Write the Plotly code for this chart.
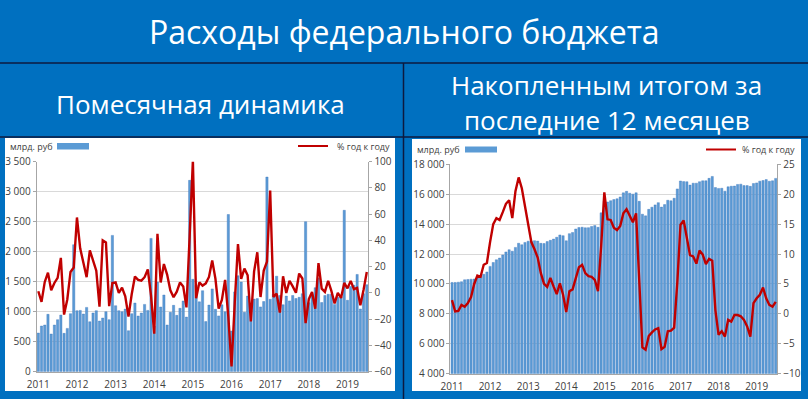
import plotly.graph_objects as go

# ---------------- data ----------------
years = ["2011", "2012", "2013", "2014", "2015", "2016", "2017", "2018", "2019"]
month_labels = [f"{y}-{m:02d}" for y in range(2011, 2020) for m in range(1, 13)][:103]

# Monthly federal budget expenditure, bn rub
monthly_spending = [
    644, 761, 778, 956, 628, 778, 867, 944, 639, 722, 967, 2117,
    1017, 1022, 961, 1072, 833, 978, 1017, 844, 894, 1000, 867, 2272,
    1100, 1017, 1000, 1044, 683, 967, 1144, 928, 978, 1122, 1022, 2222,
    760, 1494, 1078, 1278, 778, 989, 1106, 939, 1056, 1178, 910, 3189,
    1540, 1440, 1165, 1350, 835, 1110, 1380, 1040, 930, 1115, 1000, 2620,
    678, 1330, 1600, 1494, 990, 1260, 1080, 1210, 1218, 1080, 1170, 3244,
    1207, 1290, 1592, 1270, 1116, 1260, 1180, 1270, 1220, 1240, 1300, 2500,
    1150, 1300, 1400, 1560, 1153, 1270, 1290, 1290, 1122, 1240, 1250, 2690,
    1190, 1420, 1440, 1621, 1045, 1300, 1450,
]
# Monthly, % year on year
monthly_yoy = [
    1.3, -6.8, 8.4, 15.5, 2.0, 7.6, 11.5, 26.7, -16.5, -5.0, 16.0, 19.4,
    57.5, 34.0, 23.0, 12.0, 32.5, 25.5, 17.0, -10.5, 40.0, 38.5, -10.0, 7.5,
    8.0, 0.0, 4.0, -2.5, -18.0, -1.0, 12.5, 10.0, 9.4, 12.0, 18.0, -2.0,
    -31.0, 45.0, 8.0, 22.0, 14.0, 2.0, -3.3, 1.0, 8.0, 5.0, -11.0, 43.5,
    101.0, -4.0, 8.0, 5.6, 7.3, 12.2, 24.8, 10.8, -12.0, -5.3, 9.9, -17.8,
    -56.0, -7.6, 37.3, 10.7, 18.6, 13.5, -21.7, 16.3, 31.0, -3.1, 17.0, 23.8,
    78.0, -3.0, -0.5, -15.0, 12.7, 0.0, 9.3, 5.0, 0.2, 14.8, 11.0, -23.0,
    -4.7, 0.8, -12.0, 22.8, 3.3, 0.8, 9.3, 1.6, -8.0, 0.0, -3.8, 7.6,
    3.5, 9.2, 2.9, 3.9, -9.4, 2.4, 16.0,
]
# Rolling 12-month sum, bn rub
rolling_spending = [
    10100, 10100, 10120, 10150, 10280, 10300, 10320, 10330, 10400, 10550, 10650, 10801,
    11174, 11435, 11618, 11734, 11939, 12139, 12289, 12189, 12444, 12722, 12622, 12777,
    12860, 12855, 12894, 12866, 12716, 12705, 12832, 12916, 13000, 13122, 13277, 13227,
    12887, 13364, 13442, 13676, 13771, 13793, 13755, 13766, 13844, 13900, 13788, 14755,
    15535, 15481, 15568, 15640, 15697, 15818, 16092, 16193, 16067, 16004, 16094, 15525,
    14663, 14553, 14988, 15132, 15287, 15437, 15137, 15307, 15595, 15560, 15730, 16354,
    16883, 16843, 16835, 16611, 16737, 16737, 16837, 16897, 16899, 17059, 17189, 16445,
    16388, 16398, 16206, 16496, 16533, 16543, 16653, 16673, 16575, 16575, 16525, 16715,
    16755, 16875, 16915, 16976, 16868, 16898, 17058,
]
# Rolling 12-month sum, % year on year
rolling_yoy = [
    2.3, 0.4, 0.5, 1.5, 1.2, 1.8, 2.8, 5.0, 6.4, 6.2, 8.2, 8.5,
    12.0, 15.0, 16.0, 15.7, 17.0, 18.4, 19.0, 16.0, 20.5, 22.8, 21.0, 18.0,
    14.8, 12.0, 10.8, 9.4, 6.8, 5.0, 4.5, 6.0, 4.6, 3.3, 5.1, 3.2,
    0.3, 3.8, 4.1, 6.0, 7.8, 8.2, 6.8, 6.3, 6.2, 5.7, 3.8, 11.3,
    20.3, 15.8, 15.7, 14.4, 14.0, 14.7, 16.8, 17.5, 16.3, 15.3, 16.8, 5.2,
    -5.6, -6.0, -3.7, -3.1, -2.6, -2.4, -5.9, -5.5, -2.9, -2.8, -2.3, 5.3,
    14.9, 15.6, 12.6, 9.8, 9.6, 8.4, 10.6, 9.9, 8.3, 9.2, 8.9, 0.6,
    -3.5, -2.9, -3.8, -1.0, -1.3, -0.2, -0.2, -0.4, -1.0, -2.1, -3.8, 1.8,
    2.6, 3.2, 4.4, 2.6, 1.5, 1.2, 2.0,
]

left_ticks = [0, 500, 1000, 1500, 2000, 2500, 3000, 3500]
left_ticktext = ["0", "500", "1 000", "1 500", "2 000", "2 500", "3 000", "3 500"]
left_pct_ticks = [-60, -40, -20, 0, 20, 40, 60, 80, 100]
right_ticks = [4000, 6000, 8000, 10000, 12000, 14000, 16000, 18000]
right_ticktext = ["4 000", "6 000", "8 000", "10 000", "12 000", "14 000", "16 000", "18 000"]
right_pct_ticks = [-10, -5, 0, 5, 10, 15, 20, 25]

title_text = "Расходы федерального бюджета"
left_subtitle = "Помесячная динамика"
right_subtitle_1 = "Накопленным итогом за"
right_subtitle_2 = "последние 12 месяцев"
unit_label = "млрд. руб"
pct_label = "% год к году"

# ---------------- style ----------------
W, H = 808, 399
BG = "#0070C0"
BAR = "#5B9BD5"
BAR_EDGE = "#3F77BE"
RED = "#C00000"
DARK = "#0D1A3F"
GRID = "#D9D9D9"
AXIS = "#A6A6A6"
TXT = "#404040"
FONT = "Open Sans"


def px(x):
    return x / W


def py(y):
    return 1 - y / H


year_ticks = [month_labels[i] for i in range(0, 103, 12)]

fig = go.Figure()
fig.add_trace(go.Bar(x=month_labels, y=monthly_spending, xaxis="x", yaxis="y",
                     marker=dict(color=BAR, line=dict(color=BAR_EDGE, width=0.4)),
                     hoverinfo="skip", showlegend=False))
fig.add_trace(go.Scatter(x=month_labels, y=monthly_yoy, xaxis="x", yaxis="y2",
                         mode="lines", line=dict(color=RED, width=2.4),
                         hoverinfo="skip", showlegend=False))
fig.add_trace(go.Bar(x=month_labels, y=rolling_spending, xaxis="x2", yaxis="y3",
                     marker=dict(color=BAR, line=dict(color=BAR_EDGE, width=0.4)),
                     hoverinfo="skip", showlegend=False))
fig.add_trace(go.Scatter(x=month_labels, y=rolling_yoy, xaxis="x2", yaxis="y4",
                         mode="lines", line=dict(color=RED, width=2.4),
                         hoverinfo="skip", showlegend=False))

tickfont = dict(family=FONT, size=10, color=TXT)

common_x = dict(type="category", range=[-0.5, 102.5], tickmode="array",
                tickvals=year_ticks, ticktext=years, showgrid=False,
                showline=True, linecolor=AXIS, ticks="", tickfont=tickfont,
                ticklabelstandoff=3, fixedrange=True, automargin=False)
common_y = dict(showgrid=True, gridcolor=GRID, gridwidth=1, zeroline=False,
                showline=True, linecolor=AXIS, ticks="outside", ticklen=3,
                tickcolor=AXIS, tickfont=tickfont, fixedrange=True, tickmode="array",
                automargin=False)

L_x0, L_x1, L_y0, L_y1 = 36.7, 368.4, 371.7, 161.7
R_x0, R_x1, R_y0, R_y1 = 450.4, 777.3, 373.7, 164.3

fig.update_layout(
    width=W, height=H, autosize=False,
    margin=dict(l=0, r=0, t=0, b=0, pad=0, autoexpand=False),
    paper_bgcolor=BG, plot_bgcolor="white",
    bargap=0.3, hovermode=False,
    font=dict(family=FONT),
    xaxis=dict(domain=[px(L_x0), px(L_x1)], anchor="y", **common_x),
    yaxis=dict(domain=[py(L_y0), py(L_y1)], anchor="x", range=[0, 3500],
               tickvals=left_ticks, ticktext=left_ticktext, **common_y),
    yaxis2=dict(overlaying="y", side="right", anchor="x", range=[-60, 100],
                tickvals=left_pct_ticks, **{**common_y, "showgrid": False}),
    xaxis2=dict(domain=[px(R_x0), px(R_x1)], anchor="y3", **common_x),
    yaxis3=dict(domain=[py(R_y0), py(R_y1)], anchor="x2", range=[4000, 18000],
                tickvals=right_ticks, ticktext=right_ticktext, **common_y),
    yaxis4=dict(overlaying="y3", side="right", anchor="x2", range=[-10, 25],
                tickvals=right_pct_ticks, **{**common_y, "showgrid": False}),
)

shapes = [
    # white chart panels
    dict(type="rect", xref="paper", yref="paper", x0=px(5), x1=px(395), y0=py(391), y1=py(138),
         fillcolor="white", line=dict(width=0), layer="below"),
    dict(type="rect", xref="paper", yref="paper", x0=px(412), x1=px(801), y0=py(391), y1=py(139),
         fillcolor="white", line=dict(width=0), layer="below"),
    # table borders
    dict(type="line", xref="paper", yref="paper", x0=0, x1=1, y0=py(63), y1=py(63),
         line=dict(color=DARK, width=1.5)),
    dict(type="line", xref="paper", yref="paper", x0=0, x1=1, y0=py(137), y1=py(137),
         line=dict(color=DARK, width=1.5), layer="below"),
    dict(type="line", xref="paper", yref="paper", x0=px(403.5), x1=px(403.5), y0=0, y1=py(63),
         line=dict(color=DARK, width=1.5)),
    # legend markers
    dict(type="rect", xref="paper", yref="paper", x0=px(57), x1=px(89), y0=py(149.5), y1=py(143),
         fillcolor="#5B9BD5", line=dict(width=0)),
    dict(type="line", xref="paper", yref="paper", x0=px(298), x1=px(328), y0=py(146), y1=py(146),
         line=dict(color=RED, width=2)),
    dict(type="rect", xref="paper", yref="paper", x0=px(465), x1=px(497), y0=py(152.5), y1=py(146.5),
         fillcolor="#5B9BD5", line=dict(width=0)),
    dict(type="line", xref="paper", yref="paper", x0=px(706), x1=px(736), y0=py(149.5), y1=py(149.5),
         line=dict(color=RED, width=2)),
]
fig.update_layout(shapes=shapes)

white = "white"
annotations = [
    dict(text=title_text, x=px(404), y=py(31), xref="paper", yref="paper",
         xanchor="center", yanchor="middle", showarrow=False,
         font=dict(family=FONT, size=32, color=white)),
    dict(text=left_subtitle, x=px(200), y=py(104), xref="paper", yref="paper",
         xanchor="center", yanchor="middle", showarrow=False,
         font=dict(family=FONT, size=26, color=white)),
    dict(text=right_subtitle_1, x=px(606), y=py(85), xref="paper", yref="paper",
         xanchor="center", yanchor="middle", showarrow=False,
         font=dict(family=FONT, size=26, color=white)),
    dict(text=right_subtitle_2, x=px(607), y=py(120), xref="paper", yref="paper",
         xanchor="center", yanchor="middle", showarrow=False,
         font=dict(family=FONT, size=26, color=white)),
    dict(text=unit_label, x=px(8), y=py(146), xref="paper", yref="paper",
         xanchor="left", yanchor="middle", showarrow=False,
         font=dict(family=FONT, size=9, color=TXT)),
    dict(text=pct_label, x=px(392), y=py(146), xref="paper", yref="paper",
         xanchor="right", yanchor="middle", showarrow=False,
         font=dict(family=FONT, size=9, color=TXT)),
    dict(text=unit_label, x=px(415), y=py(149.5), xref="paper", yref="paper",
         xanchor="left", yanchor="middle", showarrow=False,
         font=dict(family=FONT, size=9, color=TXT)),
    dict(text=pct_label, x=px(797), y=py(149.5), xref="paper", yref="paper",
         xanchor="right", yanchor="middle", showarrow=False,
         font=dict(family=FONT, size=9, color=TXT)),
]
fig.update_layout(annotations=annotations)

fig.write_html(
    "out.html",
    config={"displayModeBar": False, "staticPlot": True},
    post_script="document.body.style.margin='0';document.body.style.padding='0';"
                "document.body.style.overflow='hidden';",
)
